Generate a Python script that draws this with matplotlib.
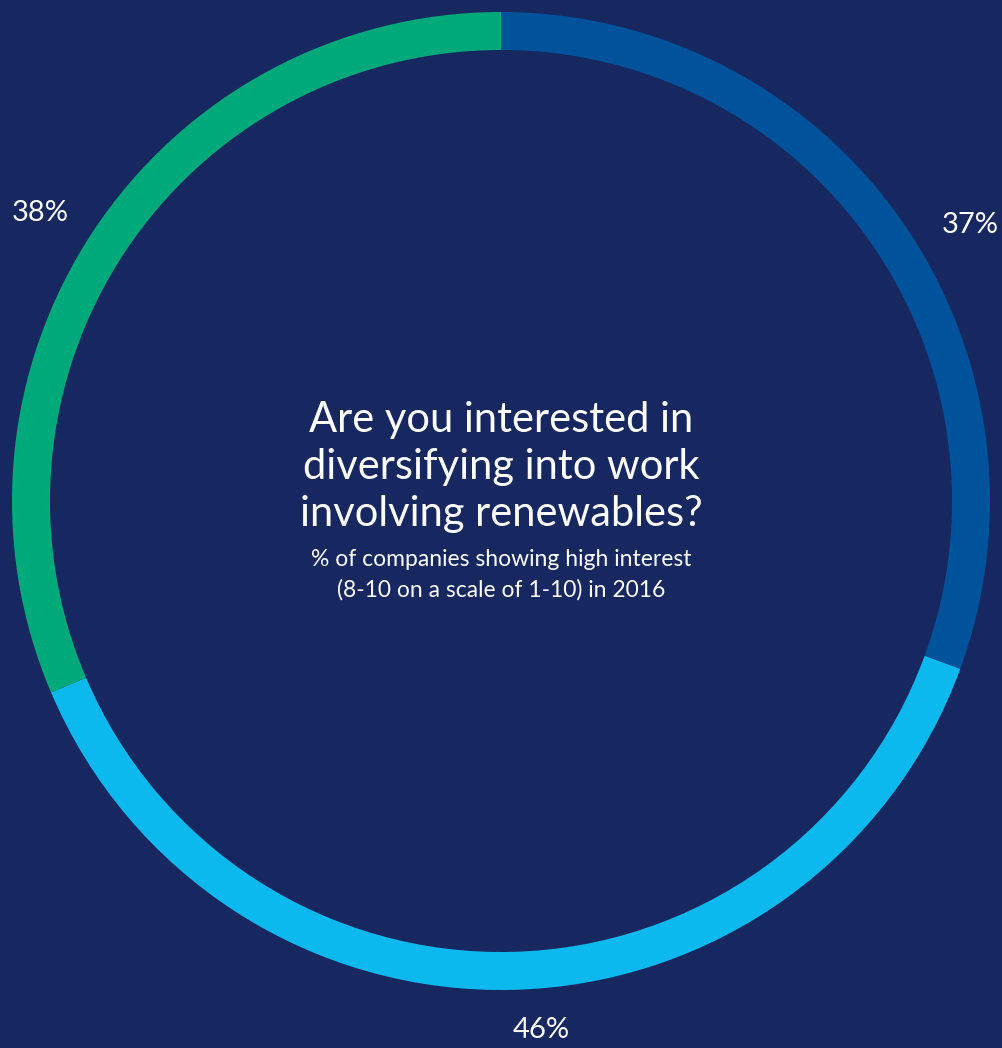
import matplotlib
matplotlib.use("Agg")
import matplotlib.pyplot as plt

# survey answers, clockwise from the top
labels = ["37%", "46%", "38%"]
values = [37, 46, 38]
colors = ["#00529B", "#0BB9EE", "#00A97A"]

bg = "#17275F"
title = "Are you interested in\ndiversifying into work\ninvolving renewables?"
subtitle = "% of companies showing high interest\n(8-10 on a scale of 1-10) in 2016"

plt.rcParams['font.family'] = ['Lato', 'DejaVu Sans']

fig = plt.figure(figsize=(10.02, 10.48), dpi=100, facecolor=bg)
ax = fig.add_axes([0, 0, 1, 1])
ax.set_facecolor(bg)

H = 1048
cx, cy = 501, H - 501
wedges, _ = ax.pie(values, colors=colors, startangle=90, counterclock=False,
                   radius=489, center=(cx, cy),
                   wedgeprops=dict(width=38, linewidth=0))

# percent labels sit just outside the ring (pixel positions from the top-left)
label_pos = [(970, 225), (541, 1030), (40, 213)]
for (px, py), lab in zip(label_pos, labels):
    ax.text(px, H - py, lab, ha='center', va='center', color='white',
            fontsize=21)

ax.text(cx, H - 467, title, ha='center', va='center', color='white',
        fontsize=30, linespacing=1.3)
ax.text(cx, H - 575, subtitle, ha='center', va='center', color='white',
        fontsize=16.5, linespacing=1.5)

ax.set_xlim(0, 1002)
ax.set_ylim(0, H)
ax.set_aspect('equal')
ax.axis('off')

fig.savefig("out.png", dpi=100, facecolor=bg)
